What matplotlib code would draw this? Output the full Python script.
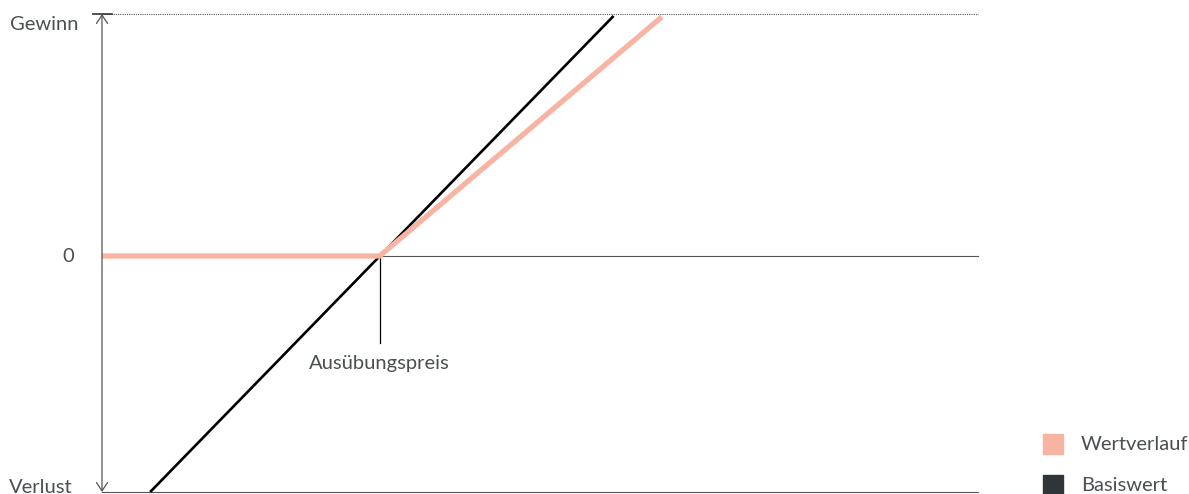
import matplotlib.pyplot as plt

# payoff diagram, x = price (0..100), y = profit (-1 = Verlust, 1 = Gewinn)
strike = 31.7
basis_x = [5.5, 58.4]
basis_y = [-0.975, 0.992]
wert_x = [0, strike, 63.9]
wert_y = [0, 0, 0.988]
legend_labels = ["Wertverlauf", "Basiswert"]

pink = "#F7B4A3"
dark = "#2F3538"
grey = "#4a4f52"

plt.rcParams['font.family'] = ['Lato', 'DejaVu Sans']
fs = 14.5

fig = plt.figure(figsize=(11.89, 4.94), dpi=100)
ax = fig.add_axes([102 / 1189, 2 / 494, 876 / 1189, 478 / 494])
ax.set_xlim(0, 100)
ax.set_ylim(-0.975, 1)
ax.axis("off")

# grid lines
ax.axhline(1, color="#555555", lw=0.8, ls=(0, (1, 1)), clip_on=False)
ax.axhline(0, color="#555555", lw=0.8, clip_on=False)
ax.axhline(-0.975, color="#555555", lw=0.8, clip_on=False)

# y axis with arrows
ax.annotate("", xy=(0, 1), xytext=(0, -0.975),
            arrowprops=dict(arrowstyle="<->,head_length=0.6,head_width=0.4",
                            color="#555555", lw=0.9, shrinkA=0, shrinkB=0),
            annotation_clip=False)
ax.plot([-1.0, 1.1], [1, 1], color="#333333", lw=1.2, clip_on=False)

# strike marker
ax.plot([strike, strike], [0, -0.36], color="black", lw=0.9)
ax.text(strike, -0.445, "Ausübungspreis", ha="center", va="center",
        fontsize=fs, color=grey)

ax.plot(basis_x, basis_y, color="black", lw=1.9, clip_on=False,
        solid_capstyle="butt")
ax.plot(wert_x, wert_y, color=pink, lw=3.8, clip_on=False,
        solid_capstyle="butt")

# y labels
ax.text(-2.7, 0.955, "Gewinn", ha="right", va="center", fontsize=fs, color=grey)
ax.text(-3.2, 0, "0", ha="right", va="center", fontsize=fs, color=grey)
ax.text(-3.4, -0.955, "Verlust", ha="right", va="center", fontsize=fs, color=grey)

# legend
for lab, col, ypix in zip(legend_labels, [pink, dark], [444, 485]):
    fig.patches.append(plt.Rectangle((1043 / 1189, (494 - ypix - 10) / 494),
                                     20 / 1189, 20 / 494, color=col,
                                     transform=fig.transFigure))
    fig.text(1081 / 1189, (494 - ypix) / 494, lab, ha="left", va="center",
             fontsize=fs, color=grey)

fig.savefig("out.png", dpi=100)
